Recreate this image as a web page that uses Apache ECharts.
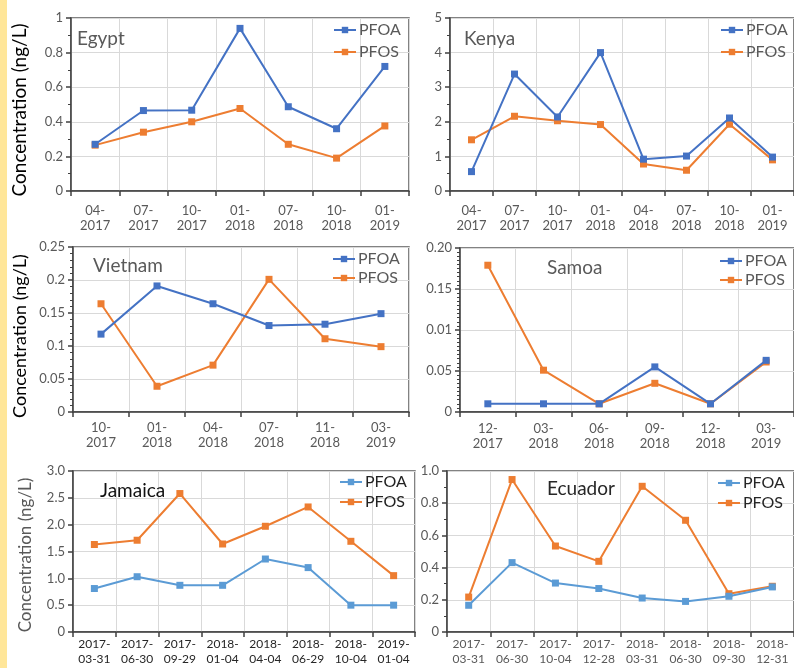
<!DOCTYPE html>
<html><head><meta charset="utf-8">
<script src="https://cdn.jsdelivr.net/npm/echarts@6/dist/echarts.min.js"></script>
<style>html,body{margin:0;padding:0;background:#fff}#c{width:794px;height:668px}</style>
</head><body><div id="c"></div>
<script>
const egyptCats = ['04-2017','07-2017','10-2017','01-2018','07-2018','10-2018','01-2019'];
const egyptPFOA = [0.27,0.465,0.467,0.94,0.487,0.36,0.72];
const egyptPFOS = [0.265,0.34,0.40,0.477,0.27,0.19,0.376];
const egyptTicks = ['0','0.2','0.4','0.6','0.8','1'];

const kenyaCats = ['04-2017','07-2017','10-2017','01-2018','04-2018','07-2018','10-2018','01-2019'];
const kenyaPFOA = [0.56,3.38,2.14,4.0,0.92,1.01,2.11,0.98];
const kenyaPFOS = [1.48,2.16,2.03,1.92,0.78,0.60,1.93,0.90];
const kenyaTicks = ['0','1','2','3','4','5'];

const vietnamCats = ['10-2017','01-2018','04-2018','07-2018','11-2018','03-2019'];
const vietnamPFOA = [0.118,0.191,0.164,0.131,0.133,0.149];
const vietnamPFOS = [0.164,0.039,0.071,0.201,0.111,0.099];
const vietnamTicks = ['0','0.05','0.1','0.15','0.2','0.25'];

const samoaCats = ['12-2017','03-2018','06-2018','09-2018','12-2018','03-2019'];
const samoaPFOA = [0.01,0.01,0.01,0.055,0.01,0.063];
const samoaPFOS = [0.179,0.051,0.01,0.035,0.01,0.061];
const samoaTicks = ['0','0.05','0.01','0.15','0.20'];

const jamaicaCats = ['2017-03-31','2017-06-30','2017-09-29','2018-01-04','2018-04-04','2018-06-29','2018-10-04','2019-01-04'];
const jamaicaPFOA = [0.81,1.03,0.87,0.87,1.36,1.20,0.50,0.50];
const jamaicaPFOS = [1.63,1.71,2.58,1.64,1.97,2.33,1.69,1.05];
const jamaicaTicks = ['0','0.5','1.0','1.5','2.0','2.5','3.0'];

const ecuadorCats = ['2017-03-31','2017-06-30','2017-10-04','2017-12-28','2018-03-31','2018-06-30','2018-09-30','2018-12-31'];
const ecuadorPFOA = [0.166,0.431,0.304,0.27,0.211,0.19,0.222,0.28];
const ecuadorPFOS = [0.217,0.947,0.534,0.439,0.905,0.694,0.238,0.284];
const ecuadorTicks = ['0','0.2','0.4','0.6','0.8','1.0'];

const FONT = 'Lato';
const BLUE = '#4472C4', LBLUE = '#5B9BD5', ORANGE = '#ED7D31';

const panels = [
  {name:'Egypt', cats:egyptCats, a:egyptPFOA, s:egyptPFOS, ticks:egyptTicks, max:1, interval:0.2, minor:2,
   grid:{left:71,top:18,width:338,height:173}, title:{left:77,top:29,color:'#595959'},
   legend:{left:333,top:22,gap:6,color:'#595959'}, blue:BLUE, xlab:{margin:12,size:13,color:'#595959'}},
  {name:'Kenya', cats:kenyaCats, a:kenyaPFOA, s:kenyaPFOS, ticks:kenyaTicks, max:5, interval:1, minor:2,
   grid:{left:450,top:18,width:347,height:173}, title:{left:464,top:29,color:'#595959'},
   legend:{left:720,top:22,gap:6,color:'#595959'}, blue:BLUE, xlab:{margin:12,size:13,color:'#595959'}},
  {name:'Vietnam', cats:vietnamCats, a:vietnamPFOA, s:vietnamPFOS, ticks:vietnamTicks, max:0.25, interval:0.05, minor:5,
   grid:{left:73,top:247,width:336,height:165}, title:{left:93,top:256,color:'#595959'},
   legend:{left:332,top:251,gap:3,color:'#595959'}, blue:BLUE, xlab:{margin:8,size:13,color:'#595959'}},
  {name:'Samoa', cats:samoaCats, a:samoaPFOA, s:samoaPFOS, ticks:samoaTicks, max:0.2, interval:0.05, minor:10,
   grid:{left:460,top:248,width:337,height:164}, title:{left:547,top:258,color:'#595959'},
   legend:{left:719,top:253,gap:3,color:'#595959'}, blue:BLUE, xlab:{margin:9,size:13,color:'#595959'}},
  {name:'Jamaica', cats:jamaicaCats, a:jamaicaPFOA, s:jamaicaPFOS, ticks:jamaicaTicks, max:3, interval:0.5, minor:0,
   grid:{left:73,top:471,width:342,height:161}, title:{left:100,top:481,color:'#111'},
   legend:{left:339,top:474,gap:4,color:'#222'}, blue:LBLUE, xlab:{margin:5,size:12,color:'#262626'}},
  {name:'Ecuador', cats:ecuadorCats, a:ecuadorPFOA, s:ecuadorPFOS, ticks:ecuadorTicks, max:1, interval:0.2, minor:2,
   grid:{left:447,top:471,width:347,height:161}, title:{left:547,top:479,color:'#262626'},
   legend:{left:717,top:475,gap:4,color:'#262626'}, blue:LBLUE, xlab:{margin:5,size:12,color:'#595959'}}
];

const option = {
  animation:false,
  textStyle:{fontFamily:FONT},
  grid:[], xAxis:[], yAxis:[], series:[], title:[], legend:[],
  graphic:[
    {type:'rect', left:0, top:0, shape:{width:7,height:668}, style:{fill:'#FFE699'}, silent:true},
    {type:'text', x:20, y:110, rotation:Math.PI/2, style:{text:'Concentration (ng/L)', font:'19px Lato', fill:'#000', textAlign:'center', textVerticalAlign:'middle'}},
    {type:'text', x:20, y:336, rotation:Math.PI/2, style:{text:'Concentration (ng/L)', font:'18px Lato', fill:'#000', textAlign:'center', textVerticalAlign:'middle'}},
    {type:'text', x:26, y:555, rotation:Math.PI/2, style:{text:'Concentration (ng/L)', font:'17px Lato', fill:'#595959', textAlign:'center', textVerticalAlign:'middle'}}
  ]
};

panels.forEach((p, i) => {
  option.grid.push(Object.assign({show:true, borderColor:'#595959', borderWidth:1.5, containLabel:false}, p.grid));
  option.xAxis.push({
    type:'category', gridIndex:i, data:p.cats, boundaryGap:true,
    axisLine:{lineStyle:{color:'#404040', width:1.5}},
    axisTick:{show:true, length:5, lineStyle:{color:'#404040', width:1.5}},
    splitLine:{show:true, lineStyle:{color:'#D9D9D9', width:1}},
    axisLabel:{interval:0, margin:p.xlab.margin, fontSize:p.xlab.size, color:p.xlab.color, lineHeight:15, fontFamily:FONT,
      formatter:v => v.replace('-', '-\n')}
  });
  const ticks = p.ticks, itv = p.interval;
  option.yAxis.push({
    type:'value', gridIndex:i, min:0, max:p.max, interval:itv,
    axisLine:{show:true, lineStyle:{color:'#404040', width:1.5}},
    axisTick:{show:true, length:5, lineStyle:{color:'#404040', width:1.5}},
    minorTick:{show:p.minor>0, splitNumber:p.minor||2, length:3, lineStyle:{color:'#404040', width:1}},
    splitLine:{show:true, lineStyle:{color:'#D9D9D9', width:1}},
    axisLabel:{margin:8, fontSize:13, color:'#595959', fontFamily:FONT,
      formatter:v => ticks[Math.round(v/itv)]}
  });
  option.series.push({
    name:'PFOA', type:'line', xAxisIndex:i, yAxisIndex:i, data:p.a,
    symbol:'rect', symbolSize:7, lineStyle:{color:p.blue, width:2}, itemStyle:{color:p.blue}, z:3
  });
  option.series.push({
    name:'PFOS', type:'line', xAxisIndex:i, yAxisIndex:i, data:p.s,
    symbol:'rect', symbolSize:7, lineStyle:{color:ORANGE, width:2}, itemStyle:{color:ORANGE}, z:2
  });
  option.title.push({text:p.name, left:p.title.left, top:p.title.top, padding:0,
    textStyle:{fontFamily:FONT, fontSize:19, fontWeight:'normal', color:p.title.color}});
  option.legend.push({
    orient:'vertical', left:p.legend.left, top:p.legend.top, padding:0, itemGap:p.legend.gap,
    itemWidth:22, itemHeight:8, selectedMode:false,
    textStyle:{fontFamily:FONT, fontSize:16, color:p.legend.color, lineHeight:16, padding:[0,0,0,-2]},
    data:[
      {name:'PFOA', itemStyle:{color:p.blue}, lineStyle:{color:p.blue, width:2}},
      {name:'PFOS', itemStyle:{color:ORANGE}, lineStyle:{color:ORANGE, width:2}}
    ]
  });
});

const chart = echarts.init(document.getElementById('c'), null, {renderer:'canvas'});
chart.setOption(option);
</script>
</body></html>
